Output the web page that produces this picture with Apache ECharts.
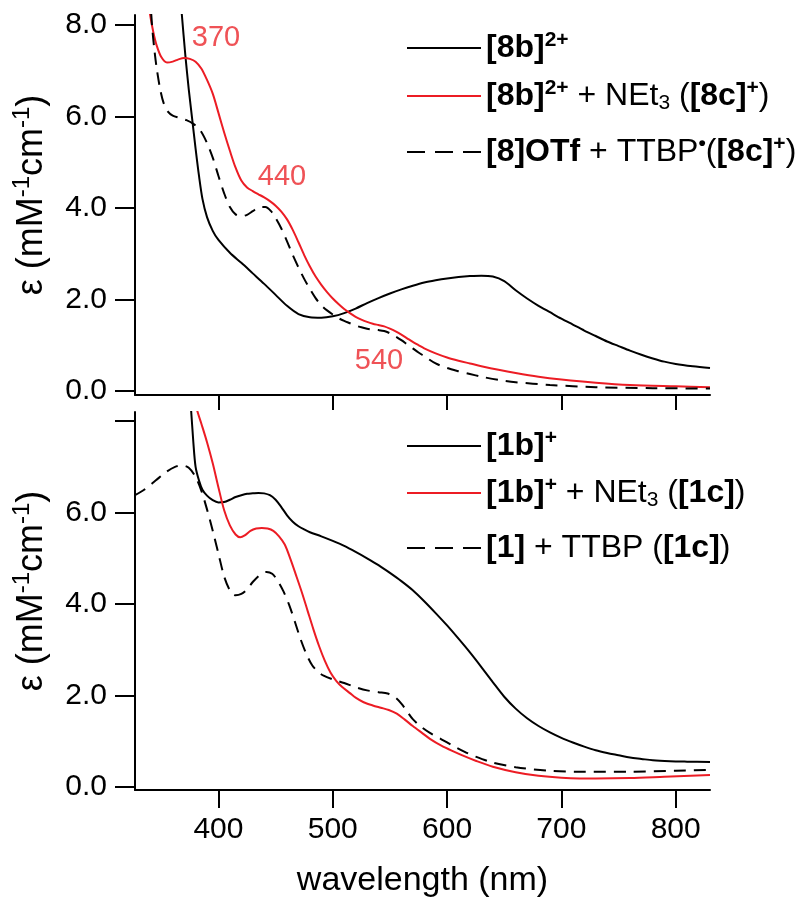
<!DOCTYPE html>
<html><head><meta charset="utf-8">
<script src="https://cdn.jsdelivr.net/npm/echarts@6/dist/echarts.min.js"></script>
<style>html,body{margin:0;padding:0;background:#fff}#c{width:806px;height:903px}</style>
</head><body><div id="c"></div><script>
// ---------- data ----------
// Top panel: [8b]2+
const wl8b  = [365,368,371,374,377,380,383,386,390,395,400,410,420,430,440,450,460,470,480,490,500,510,520,530,540,550,560,570,580,590,600,610,620,630,640,650,660,670,680,690,700,710,720,730,740,750,760,770,780,790,800,815,830];
const eps8b = [9.1,8.22,7.35,6.6,5.95,5.3,4.7,4.2,3.8,3.5,3.3,3.02,2.8,2.57,2.34,2.1,1.86,1.68,1.61,1.6,1.63,1.7,1.8,1.92,2.03,2.13,2.22,2.3,2.37,2.42,2.46,2.49,2.51,2.52,2.5,2.4,2.2,2.02,1.86,1.72,1.58,1.45,1.32,1.2,1.08,0.98,0.88,0.79,0.71,0.64,0.59,0.54,0.5];
// Top panel: [8b]2+ + NEt3
const wl8c  = [338,340,343,346,350,355,360,365,370,375,380,385,390,395,400,405,410,415,420,425,430,435,440,445,450,455,460,465,470,475,480,485,490,495,500,505,510,515,520,525,530,535,540,545,550,555,560,565,570,575,580,590,600,610,620,630,645,660,680,700,730,760,800,830];
const eps8c = [8.7,8.26,7.85,7.55,7.3,7.18,7.2,7.25,7.28,7.26,7.2,7.05,6.8,6.5,6.08,5.65,5.25,4.88,4.6,4.45,4.37,4.3,4.23,4.15,4.05,3.92,3.75,3.52,3.25,2.97,2.72,2.5,2.32,2.16,2.02,1.9,1.79,1.7,1.62,1.56,1.51,1.47,1.44,1.41,1.36,1.3,1.23,1.15,1.07,1.0,0.93,0.82,0.73,0.66,0.6,0.54,0.46,0.39,0.31,0.25,0.18,0.13,0.1,0.08];
// Top panel: [8]OTf + TTBP
const wl8t  = [340,342,344,346,349,352,356,360,366,372,378,384,390,395,400,405,410,415,420,425,430,436,441,446,450,455,460,465,470,475,480,485,490,495,500,505,510,515,520,525,530,535,540,545,550,555,560,565,570,575,580,590,600,610,620,630,645,660,690,730,780,830];
const eps8t = [8.7,7.96,7.45,7.05,6.6,6.3,6.1,6.02,5.97,5.92,5.84,5.7,5.42,5.1,4.7,4.32,4.02,3.86,3.82,3.85,3.93,4.02,4.02,3.93,3.78,3.55,3.27,2.97,2.7,2.45,2.23,2.03,1.87,1.76,1.67,1.59,1.53,1.48,1.43,1.39,1.36,1.34,1.33,1.31,1.26,1.19,1.11,1.02,0.93,0.84,0.76,0.6,0.5,0.43,0.37,0.31,0.24,0.19,0.13,0.08,0.06,0.05];

// Bottom panel: [1b]+
const wl1b  = [373,376,378,380,383,386,390,395,400,405,410,415,420,425,430,435,440,445,450,455,460,465,470,475,480,490,500,510,520,530,540,550,560,570,580,590,600,610,620,630,640,650,660,670,680,690,700,710,720,730,740,750,760,770,780,795,810,830];
const eps1b = [9.2,8.27,7.55,7.0,6.7,6.5,6.37,6.27,6.22,6.23,6.28,6.34,6.38,6.41,6.42,6.43,6.42,6.38,6.28,6.12,5.94,5.8,5.7,5.63,5.57,5.48,5.38,5.27,5.14,5.0,4.85,4.68,4.5,4.3,4.06,3.8,3.53,3.24,2.94,2.62,2.29,1.97,1.71,1.5,1.33,1.19,1.07,0.97,0.88,0.8,0.74,0.69,0.64,0.61,0.58,0.56,0.55,0.54];
// Bottom panel: [1b]+ + NEt3
const wl1c  = [378,381,385,390,395,400,405,410,415,419,423,428,433,438,443,448,453,458,463,468,473,478,483,488,493,498,503,508,515,520,527,535,542,549,556,563,570,578,585,595,605,615,625,640,660,680,700,730,760,790,830];
const eps1c = [8.7,8.27,7.95,7.54,7.08,6.55,6.05,5.72,5.52,5.46,5.5,5.6,5.65,5.66,5.65,5.6,5.48,5.3,4.98,4.62,4.25,3.85,3.45,3.08,2.76,2.5,2.32,2.19,2.05,1.95,1.85,1.78,1.73,1.68,1.6,1.47,1.33,1.18,1.05,0.9,0.78,0.67,0.57,0.44,0.32,0.24,0.2,0.18,0.19,0.22,0.26];
// Bottom panel: [1] + TTBP
const wl1t  = [327,335,345,355,362,368,374,380,385,390,395,400,405,410,415,420,425,430,436,442,447,452,457,462,467,472,477,482,487,492,500,510,520,530,540,548,555,560,565,570,578,585,595,605,615,625,640,660,690,720,760,800,830];
const eps1t = [6.38,6.5,6.7,6.9,7.0,7.03,6.98,6.78,6.48,6.07,5.6,5.1,4.6,4.3,4.19,4.22,4.32,4.48,4.63,4.7,4.66,4.5,4.27,3.97,3.6,3.22,2.9,2.66,2.52,2.43,2.35,2.27,2.18,2.11,2.07,2.04,1.95,1.82,1.65,1.48,1.3,1.18,1.04,0.9,0.77,0.66,0.53,0.43,0.35,0.33,0.33,0.35,0.37];

const xTicks = [400,500,600,700,800];
const yTicks = [0,2,4,6,8];
const yLabelsTop = [0,2,4,6,8];
const yLabelsBottom = [0,2,4,6];
const peakLabels = ['370','440','540'];

const names = ['[8b]2+','[8b]2+ + NEt3 ([8c]+)','[8]OTf + TTBP•([8c]+)','[1b]+','[1b]+ + NEt3 ([1c])','[1] + TTBP ([1c])'];
const dashedSeries = [false, false, true, false, false, true];
const legendRich = {
  '[8b]2+': '{b|[8b]}{sup|2+}',
  '[8b]2+ + NEt3 ([8c]+)': '{b|[8b]}{sup|2+}{r| + NEt}{sub|3}{r| (}{b|[8c]}{sup|+}{r|)}',
  '[8]OTf + TTBP•([8c]+)': '{b|[8]OTf}{r| + TTBP}{sup|•}{r|(}{b|[8c]}{sup|+}{r|)}',
  '[1b]+': '{b|[1b]}{sup|+}',
  '[1b]+ + NEt3 ([1c])': '{b|[1b]}{sup|+}{r| + NEt}{sub|3}{r| (}{b|[1c]}{r|)}',
  '[1] + TTBP ([1c])': '{b|[1]}{r| + TTBP (}{b|[1c]}{r|)}'
};

// ---------- styling ----------
const FONT = '"Liberation Sans", Arial, Helvetica, sans-serif';
const RED = '#ec1c24';
const ANN = '#ef5256';
const pairs = (xs, ys) => xs.map((x, i) => [x, ys[i]]);

function makeX(gi, withLabels) {
  return {
    type: 'value', gridIndex: gi, min: 327, max: 830,
    axisLine: { show: true, onZero: false, lineStyle: { color: '#000', width: 2 } },
    axisTick: { show: true, inside: false, length: withLabels ? 18 : 15, customValues: xTicks, lineStyle: { color: '#000', width: 2 } },
    axisLabel: { show: withLabels, customValues: xTicks, margin: 25, color: '#000', fontSize: 30, fontFamily: FONT },
    splitLine: { show: false },
    name: withLabels ? 'wavelength (nm)' : '',
    nameLocation: 'middle', nameGap: 74,
    nameTextStyle: { color: '#000', fontSize: 34, fontFamily: FONT }
  };
}
function makeY(gi, min, max, labels) {
  return {
    type: 'value', gridIndex: gi, min: min, max: max,
    axisLine: { show: true, onZero: false, lineStyle: { color: '#000', width: 2 } },
    axisTick: { show: true, inside: false, length: 20, customValues: yTicks, lineStyle: { color: '#000', width: 2 } },
    axisLabel: { show: true, customValues: labels, margin: 28, color: '#000', fontSize: 30, fontFamily: FONT,
                 formatter: v => Number(v).toFixed(1) },
    splitLine: { show: false },
    name: 'ε (mM{sup|-1}cm{sup|-1})',
    nameLocation: 'middle', nameRotate: 90, nameGap: 68,
    nameTextStyle: { color: '#000', fontSize: 36, fontFamily: FONT, lineHeight: 44, padding: [0, 0, 0, 20],
      rich: { sup: { fontSize: 24, fontFamily: FONT, color: '#000', verticalAlign: 'top', lineHeight: 26 } } }
  };
}
function makeSeries(name, xs, ys, gi, color, dashed) {
  return {
    name: name, type: 'line', xAxisIndex: gi, yAxisIndex: gi,
    data: pairs(xs, ys), symbol: 'none', smooth: 0.3,
    clip: true, silent: true,
    lineStyle: { color: color, width: 2, type: dashed ? [12, 8] : 'solid' },
    itemStyle: { color: color }
  };
}
const richStyles = {
  r:   { fontSize: 32, fontFamily: FONT, color: '#000', lineHeight: 36 },
  b:   { fontSize: 32, fontFamily: FONT, color: '#000', fontWeight: 'bold', lineHeight: 36 },
  sup: { fontSize: 21, fontFamily: FONT, color: '#000', fontWeight: 'bold', lineHeight: 20, verticalAlign: 'top' },
  sub: { fontSize: 21, fontFamily: FONT, color: '#000', lineHeight: 20, verticalAlign: 'bottom' }
};
const legendRows = [48, 96, 152, 446, 493, 548];
function makeLegend(i) {
  const lg = {
    data: [names[i]], orient: 'vertical', left: 406, top: legendRows[i] - 18,
    padding: 0, itemWidth: 74, itemHeight: 14, selectedMode: false,
    itemStyle: { opacity: 0 },
    formatter: n => legendRich[n],
    textStyle: { fontSize: 32, fontFamily: FONT, color: '#000', lineHeight: 36, rich: richStyles }
  };
  if (dashedSeries[i]) lg.lineStyle = { type: [18, 10] };
  return lg;
}

const chart = echarts.init(document.getElementById('c'), null, { renderer: 'canvas' });
chart.setOption({
  backgroundColor: '#fff',
  animation: false,
  grid: [
    { left: 135, top: 15, width: 575, height: 380 },
    { left: 135, top: 412, width: 575, height: 378 }
  ],
  xAxis: [makeX(0, false), makeX(1, true)],
  yAxis: [makeY(0, -0.09, 8.22, yLabelsTop), makeY(1, -0.07, 8.2, yLabelsBottom)],
  legend: [0,1,2,3,4,5].map(makeLegend),
  series: [
    makeSeries(names[0], wl8b, eps8b, 0, '#000', dashedSeries[0]),
    makeSeries(names[1], wl8c, eps8c, 0, RED, dashedSeries[1]),
    makeSeries(names[2], wl8t, eps8t, 0, '#000', dashedSeries[2]),
    makeSeries(names[3], wl1b, eps1b, 1, '#000', dashedSeries[3]),
    makeSeries(names[4], wl1c, eps1c, 1, RED, dashedSeries[4]),
    makeSeries(names[5], wl1t, eps1t, 1, '#000', dashedSeries[5])
  ],
  graphic: [
    { type: 'text', x: 216, y: 38, style: { text: peakLabels[0], fill: ANN, fontSize: 29, fontFamily: FONT, align: 'center', verticalAlign: 'middle' } },
    { type: 'text', x: 282, y: 177, style: { text: peakLabels[1], fill: ANN, fontSize: 29, fontFamily: FONT, align: 'center', verticalAlign: 'middle' } },
    { type: 'text', x: 379, y: 361, style: { text: peakLabels[2], fill: ANN, fontSize: 29, fontFamily: FONT, align: 'center', verticalAlign: 'middle' } }
  ]
});
</script></body></html>
